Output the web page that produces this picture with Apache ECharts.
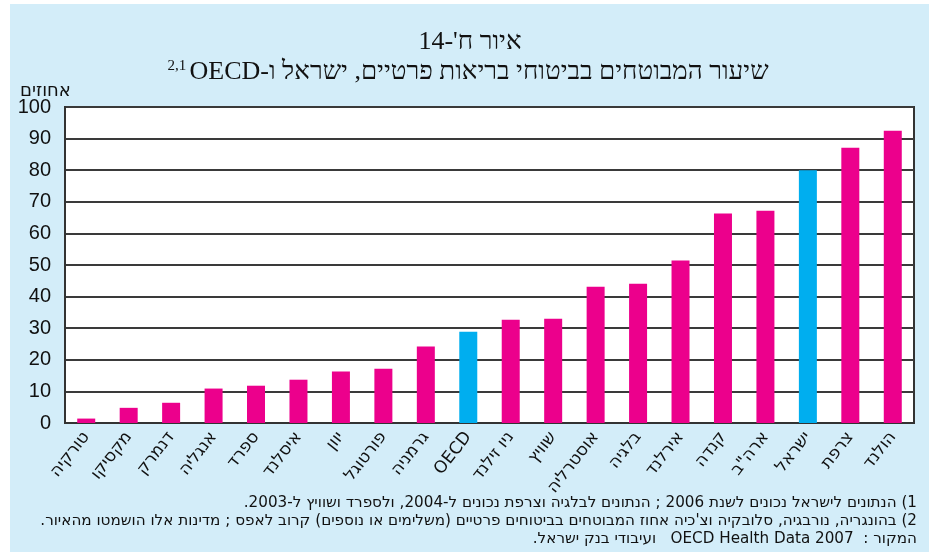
<!DOCTYPE html>
<html>
<head>
<meta charset="utf-8">
<script src="https://cdn.jsdelivr.net/npm/echarts@6/dist/echarts.min.js"></script>
<style>
html,body{margin:0;padding:0;background:#ffffff;}
#c{width:929px;height:557px;}
</style>
</head>
<body>
<div id="c" dir="rtl"></div>
<script>
const categories = ['טורקיה','מקסיקו','דנמרק','אנגליה','ספרד','איסלנד','יוון','פורטוגל','גרמניה','OECD','ניו זילנד','שוויץ','אוסטרליה','בלגיה','אירלנד','קנדה','ארה"ב','ישראל','צרפת','הולנד'];
const values = [1.4, 4.8, 6.4, 10.9, 11.8, 13.7, 16.3, 17.2, 24.2, 28.9, 32.7, 33.0, 43.1, 44.1, 51.4, 66.3, 67.2, 80.0, 87.1, 92.5];
const highlighted = ['OECD','ישראל'];
const yTicks = [0,10,20,30,40,50,60,70,80,90,100];
const titleLine1 = "איור ח'-14";
const titleLine2 = 'שיעור המבוטחים בביטוחי בריאות פרטיים, ישראל ו-OECD';
const titleSup = '2,1';
const yName = 'אחוזים';
const footnotes = [
  '1) הנתונים לישראל נכונים לשנת 2006 ; הנתונים לבלגיה וצרפת נכונים ל-2004, ולספרד ושוויץ ל-2003.',
  '2) בהונגריה, נורבגיה, סלובקיה וצ\'כיה אחוז המבוטחים בביטוחים פרטיים (משלימים או נוספים) קרוב לאפס ; מדינות אלו הושמטו מהאיור.',
  'המקור :  OECD Health Data 2007   ועיבודי בנק ישראל.'
];

const MAG = '#ec008c', BLUE = '#00aeef';
const chart = echarts.init(document.getElementById('c'), null, {renderer:'canvas'});
const hebFont = '"DejaVu Sans", "Liberation Sans", sans-serif';
const serifFont = '"Liberation Serif", "DejaVu Serif", serif';

const option = {
  backgroundColor: '#ffffff',
  animation: false,
  graphic: [
    {type:'rect', z:-10, shape:{x:10,y:4,width:919,height:548}, style:{fill:'#d3edf9'}},
    {type:'text', x:470, y:42, style:{text:titleLine1, font:'26px ' + serifFont, fill:'#111', align:'center', verticalAlign:'middle'}},
    {type:'text', x:468, y:72, style:{
      text:'{s|' + titleSup + '} {m|' + titleLine2 + '}',
      align:'center', verticalAlign:'middle',
      rich:{
        s:{font:'15px ' + serifFont, fill:'#111', verticalAlign:'top', padding:[0,0,12,0]},
        m:{font:'26px ' + serifFont, fill:'#111'}
      }
    }},
    {type:'text', x:917, y:503, style:{text:footnotes[0], font:'15.2px ' + hebFont, fill:'#111', align:'right', verticalAlign:'middle'}},
    {type:'text', x:917, y:521, style:{text:footnotes[1], font:'15.2px ' + hebFont, fill:'#111', align:'right', verticalAlign:'middle'}},
    {type:'text', x:917, y:539, style:{text:footnotes[2], font:'15.2px ' + hebFont, fill:'#111', align:'right', verticalAlign:'middle'}},
    {type:'text', x:20, y:91, style:{text:yName, font:'18px ' + hebFont, fill:'#111', align:'left', verticalAlign:'middle'}}
  ],
  grid: {left:65, right:15, top:107, bottom:134, show:true, backgroundColor:'#ffffff', borderColor:'#333', borderWidth:2},
  xAxis: {
    type:'category', data:categories,
    axisLine:{show:true, lineStyle:{color:'#333', width:2}},
    axisTick:{show:false},
    axisLabel:{rotate:52, interval:0, margin:11, color:'#111', fontSize:17, fontFamily:hebFont}
  },
  yAxis: {
    type:'value', min:0, max:100, interval:10,
    axisLine:{show:true, lineStyle:{color:'#333', width:2}},
    axisTick:{show:false},
    axisLabel:{margin:14, color:'#111', fontSize:20, fontFamily:'"Liberation Sans", Arial, sans-serif',
      formatter: v => yTicks.includes(v) ? String(v) : ''},
    splitLine:{show:true, lineStyle:{color:'#3a3a3a', width:2}}
  },
  series: [{
    type:'bar', barWidth:18,
    data: values.map((v,i) => ({value:v, itemStyle:{color: highlighted.includes(categories[i]) ? BLUE : MAG}})),
    z:3
  }]
};
chart.setOption(option);
</script>
</body>
</html>
